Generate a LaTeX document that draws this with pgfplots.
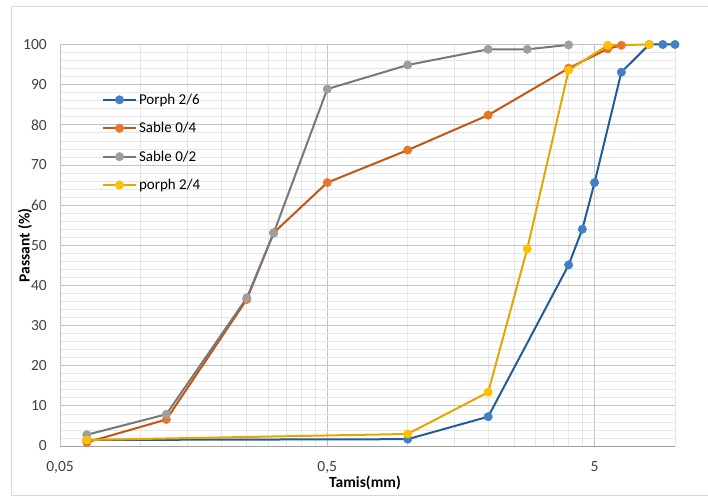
\documentclass[border=0pt]{standalone}
\usepackage{pgfplots}
\pgfplotsset{compat=1.18}
\usepackage{fontspec}
\setmainfont{Carlito}
\definecolor{bline}{RGB}{35,92,150}
\definecolor{bmark}{RGB}{62,130,196}
\definecolor{oline}{RGB}{196,85,18}
\definecolor{omark}{RGB}{232,118,40}
\definecolor{gline}{RGB}{120,120,120}
\definecolor{gmark}{RGB}{158,158,158}
\definecolor{yline}{RGB}{228,166,0}
\definecolor{ymark}{RGB}{255,192,0}
\definecolor{majgrid}{RGB}{195,195,195}
\definecolor{mingrid}{RGB}{230,230,230}
\definecolor{ticktext}{RGB}{64,64,64}
\definecolor{frame}{RGB}{217,217,217}
\begin{document}
\begin{tikzpicture}[x=1pt,y=1pt]
\useasboundingbox (0,0) rectangle (708,496);
\draw[frame,line width=0.8pt] (708,490) -- (11,490) -- (11,1) -- (708,1);
\begin{axis}[
  at={(60pt,50pt)}, anchor=south west,
  scale only axis, width=615pt, height=401.5pt,
  xmode=log, xmin=0.05, xmax=10, ymin=0, ymax=100,
  clip=false,
  xtick={0.05,0.5,5}, xticklabels={0{,}05,0{,}5,5},
  minor xtick={0.1,0.15,0.2,0.25,0.3,0.35,0.4,0.45,1,1.5,2,2.5,3,3.5,4,4.5,10},
  ytick={0,10,...,100}, minor y tick num=4,
  /pgf/number format/assume math mode=true,
  grid=both,
  major grid style={draw=majgrid, line width=0.8pt},
  minor grid style={draw=mingrid, line width=0.7pt},
  major tick length=0pt, minor tick length=0pt,
  axis x line*=bottom, axis y line*=left,
  x axis line style={-, draw=gray!75, line width=1pt},
  y axis line style={-, draw=majgrid, line width=0.8pt},
  tick label style={font=\fontsize{15.5}{17}\selectfont, text=ticktext, inner sep=0pt},
  yticklabel style={anchor=east, xshift=-13pt},
  xticklabel style={anchor=north, yshift=-15pt},
  xlabel={\textbf{Tamis(mm)}},
  ylabel={\textbf{Passant (\%)}},
  label style={font=\fontsize{15.5}{17}\selectfont},
  xlabel style={at={(axis description cs:0.496,-0.092)}, anchor=center},
  ylabel style={at={(axis description cs:-0.057,0.5)}, anchor=center, rotate=0},
  legend cell align=left,
  legend style={at={(axis description cs:0.068,0.8825)}, anchor=north west,
    draw=none, fill=none, font=\fontsize{15}{17}\selectfont,
    row sep=12.5pt, inner sep=0pt,
    /tikz/every even column/.append style={column sep=4pt}},
  legend image code/.code={
    \draw[mark repeat=2,mark phase=2,#1] plot coordinates {(0pt,0pt) (16.5pt,0pt) (33pt,0pt)};},
  every axis plot/.append style={line width=2pt, mark=*, mark size=4.2pt},
]
\addplot[color=bline, mark options={fill=bmark, draw=bmark, line width=0.5pt}] coordinates {
(0.063,1.5) (1,1.7) (2,7.3) (4,45.1) (4.5,54) (5,65.6) (6.3,93.1) (8,100) (9,100) (10,100)};
\addlegendentry{Porph 2/6}
\addplot[color=oline, mark options={fill=omark, draw=omark, line width=0.5pt}] coordinates {
(0.063,0.9) (0.125,6.6) (0.25,36.5) (0.315,53.1) (0.5,65.6) (1,73.7) (2,82.4) (4,94.1) (5.6,98.9) (6.3,99.8)};
\addlegendentry{Sable 0/4}
\addplot[color=gline, mark options={fill=gmark, draw=gmark, line width=0.5pt}] coordinates {
(0.063,2.8) (0.125,7.9) (0.25,36.9) (0.315,53) (0.5,88.9) (1,94.9) (2,98.8) (2.8,98.8) (4,99.9)};
\addlegendentry{Sable 0/2}
\addplot[color=yline, mark options={fill=ymark, draw=ymark, line width=0.5pt}] coordinates {
(0.063,1.5) (1,3.0) (2,13.4) (2.8,49.1) (4,93.6) (5.6,99.8) (8,100)};
\addlegendentry{porph 2/4}
\end{axis}
\end{tikzpicture}
\end{document}
